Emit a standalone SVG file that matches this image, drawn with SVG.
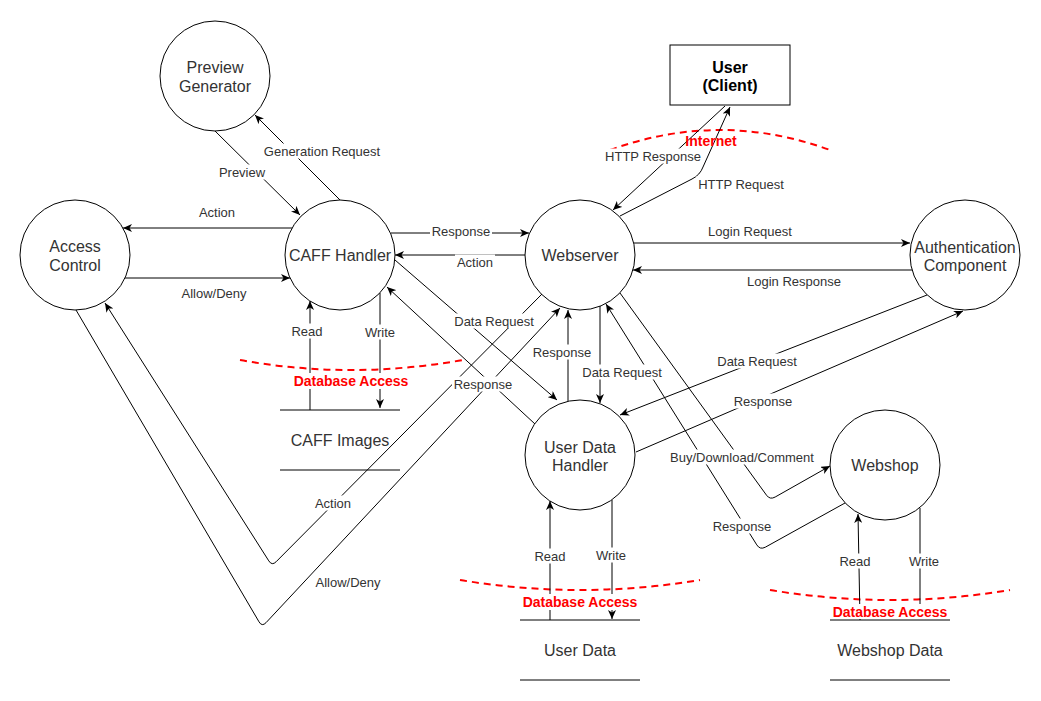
<svg xmlns="http://www.w3.org/2000/svg" width="1041" height="701" viewBox="0 0 1041 701">
<style>
.n{fill:#fff;stroke:#000;stroke-width:1}
.s{stroke:#000;stroke-width:1;fill:none}
.t{font-family:"Liberation Sans",Arial,sans-serif;font-size:16px;fill:#333;text-anchor:middle}
.tb{font-family:"Liberation Sans",Arial,sans-serif;font-size:16px;font-weight:bold;fill:#000;text-anchor:middle}
.l{font-family:"Liberation Sans",Arial,sans-serif;font-size:13px;fill:#333;text-anchor:middle}
.r{font-family:"Liberation Sans",Arial,sans-serif;font-size:14px;font-weight:bold;fill:#f00;text-anchor:middle}
.bg{fill:#fff}
.c{fill:none;stroke:#000;stroke-width:1;marker-end:url(#ar)}
.d{fill:none;stroke:#f00;stroke-width:2;stroke-dasharray:7 5}
</style>
<defs>
<marker id="ar" markerUnits="userSpaceOnUse" markerWidth="10" markerHeight="8" refX="9" refY="4" orient="auto">
<path d="M0,0 L9,4 L0,8 L2.5,4 Z" fill="#000"/>
</marker>
</defs>
<rect width="1041" height="701" fill="#fff"/>

<g id="preview-generator"><circle class="n" cx="215" cy="76" r="55"/><text class="t" x="215" y="72.5">Preview</text><text class="t" x="215" y="91.5">Generator</text></g>
<g id="access-control"><circle class="n" cx="75" cy="255" r="55"/><text class="t" x="75" y="251.5">Access</text><text class="t" x="75" y="270.5">Control</text></g>
<g id="caff-handler"><circle class="n" cx="340" cy="255" r="55"/><text class="t" x="340" y="260.5">CAFF Handler</text></g>
<g id="webserver"><circle class="n" cx="580" cy="255" r="55"/><text class="t" x="580" y="260.5">Webserver</text></g>
<g id="auth"><circle class="n" cx="965" cy="255" r="55"/><text class="t" x="965" y="252.5">Authentication</text><text class="t" x="965" y="271">Component</text></g>
<g id="user-data-handler"><circle class="n" cx="580" cy="455" r="55"/><text class="t" x="580" y="452.5">User Data</text><text class="t" x="580" y="471">Handler</text></g>
<g id="webshop"><circle class="n" cx="885" cy="465" r="55"/><text class="t" x="885" y="470.5">Webshop</text></g>
<g id="user"><rect class="n" x="670" y="45" width="120" height="60"/><text class="tb" x="730" y="72.5">User</text><text class="tb" x="730" y="91">(Client)</text></g>
<g id="caff-images"><line class="s" x1="280" y1="410" x2="400" y2="410"/><line class="s" x1="280" y1="470" x2="400" y2="470"/><text class="t" x="340" y="445.5">CAFF Images</text></g>
<g id="user-data"><line class="s" x1="520" y1="620" x2="640" y2="620"/><line class="s" x1="520" y1="680" x2="640" y2="680"/><text class="t" x="580" y="655.5">User Data</text></g>
<g id="webshop-data"><line class="s" x1="830" y1="620" x2="950" y2="620"/><line class="s" x1="830" y1="680" x2="950" y2="680"/><text class="t" x="890" y="655.5">Webshop Data</text></g>

<g id="boundaries">
<path class="d" d="M610,150 Q720,110 830,150"/>
<path class="d" d="M240,360 Q350,380 463,360"/>
<path class="d" d="M460,580 Q580,600 700,580"/>
<path class="d" d="M770,590 Q890,610 1010,590"/>
</g>

<g id="connectors">
<path class="c" d="M215,131 L300,215"/>
<path class="c" d="M340,200 L255,115"/>
<path class="c" d="M292,228 L123,228"/>
<path class="c" d="M125,278 L290,278"/>
<path class="c" d="M391,233 L529,233"/>
<path class="c" d="M525,255 L395,255"/>
<path class="c" d="M395,260 L557,400"/>
<path class="c" d="M535,424 L387,287"/>
<path class="c" d="M568,401 L568,310"/>
<path class="c" d="M600,306 L600,403"/>
<path class="c" d="M725,106 L613,210"/>
<path class="c" d="M620,216 L692,179 Q700,175 703,167 L730,107"/>
<path class="c" d="M634,243 L910,243"/>
<path class="c" d="M912,270 L633,270"/>
<path class="c" d="M927,295 L620,415"/>
<path class="c" d="M636,452 L963,311"/>
<path class="c" d="M620,293 L766.5,495.2 Q770,500 775.2,497 L830,466"/>
<path class="c" d="M845,503 L765.3,547.2 Q760,550 756.8,544.9 L606,304"/>
<path class="c" d="M542,294 L276.2,561.7 Q272,566 268.8,560.9 L105,303"/>
<path class="c" d="M76,310 L259,621.8 Q262,627 266.1,622.6 L560,308"/>
<path class="c" d="M310,410 L310,301"/>
<path class="c" d="M380,293 L380,408"/>
<path class="c" d="M550,620 L550,501"/>
<path class="c" d="M612,500 L612,619"/>
<path class="c" d="M860,620 L858,514"/>
<path class="c" d="M920,508 L920,619"/>
</g>

<g id="labels">
<rect class="bg" x="217" y="164.5" width="50" height="15"/><text class="l" x="242" y="176.5">Preview</text>
<rect class="bg" x="262" y="143.5" width="120" height="15"/><text class="l" x="322" y="155.5">Generation Request</text>
<text class="l" x="217" y="216.5">Action</text>
<text class="l" x="214" y="297.5">Allow/Deny</text>
<rect class="bg" x="430" y="223.5" width="62" height="15"/><text class="l" x="461" y="235.5">Response</text>
<rect class="bg" x="455" y="254.5" width="40" height="15"/><text class="l" x="475" y="266.5">Action</text>
<rect class="bg" x="452" y="313.5" width="84" height="15"/><text class="l" x="494" y="325.5">Data Request</text>
<rect class="bg" x="452" y="376.5" width="62" height="15"/><text class="l" x="483" y="388.5">Response</text>
<rect class="bg" x="531" y="344.5" width="62" height="15"/><text class="l" x="562" y="356.5">Response</text>
<rect class="bg" x="580" y="364.5" width="84" height="15"/><text class="l" x="622" y="376.5">Data Request</text>
<rect class="bg" x="290" y="323.5" width="35" height="15"/><text class="l" x="307" y="335.5">Read</text>
<rect class="bg" x="363" y="324.5" width="34" height="15"/><text class="l" x="380" y="336.5">Write</text>
<rect class="bg" x="603" y="148.5" width="100" height="15"/><text class="l" x="653" y="160.5">HTTP Response</text>
<rect class="bg" x="696" y="176.5" width="90" height="15"/><text class="l" x="741" y="188.5">HTTP Request</text>
<text class="l" x="750" y="235.5">Login Request</text>
<text class="l" x="794" y="285.5">Login Response</text>
<rect class="bg" x="715" y="353.5" width="84" height="15"/><text class="l" x="757" y="365.5">Data Request</text>
<rect class="bg" x="732" y="393.5" width="62" height="15"/><text class="l" x="763" y="405.5">Response</text>
<rect class="bg" x="668" y="449.5" width="148" height="15"/><text class="l" x="742" y="461.5">Buy/Download/Comment</text>
<rect class="bg" x="711" y="518.5" width="62" height="15"/><text class="l" x="742" y="530.5">Response</text>
<rect class="bg" x="313" y="495.5" width="40" height="15"/><text class="l" x="333" y="507.5">Action</text>
<rect class="bg" x="313" y="574.5" width="70" height="15"/><text class="l" x="348" y="586.5">Allow/Deny</text>
<rect class="bg" x="533" y="548.5" width="35" height="15"/><text class="l" x="550" y="560.5">Read</text>
<rect class="bg" x="594" y="547.5" width="34" height="15"/><text class="l" x="611" y="559.5">Write</text>
<rect class="bg" x="838" y="553.5" width="35" height="15"/><text class="l" x="855" y="565.5">Read</text>
<rect class="bg" x="907" y="553.5" width="34" height="15"/><text class="l" x="924" y="565.5">Write</text>
<text class="r" x="711" y="146">Internet</text>
<rect class="bg" x="292" y="373" width="118" height="16"/><text class="r" x="351" y="386">Database Access</text>
<rect class="bg" x="521" y="594" width="118" height="16"/><text class="r" x="580" y="607">Database Access</text>
<rect class="bg" x="831" y="604" width="118" height="15"/><text class="r" x="890" y="617">Database Access</text>
</g>
</svg>
